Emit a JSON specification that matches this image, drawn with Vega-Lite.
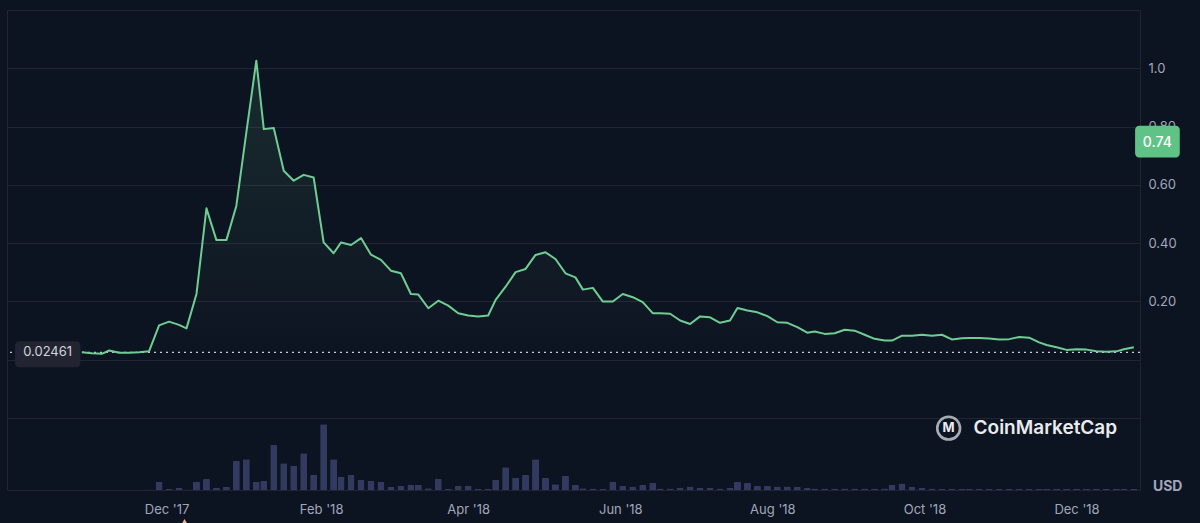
{
  "$schema": "https://vega.github.io/schema/vega-lite/v6.json",
  "width": 1133,
  "height": 480,
  "padding": {"left": 7, "top": 10, "right": 60, "bottom": 33},
  "autosize": {"type": "none"},
  "background": "#0d1421",
  "config": {
    "font": "Inter",
    "view": {"stroke": "#222531", "strokeWidth": 1},
    "axis": {"domain": false, "ticks": false, "labelFont": "Inter", "labelColor": "#a1a7bb", "labelFontSize": 13}
  },
  "data": {
    "format": {"parse": {"date": "date:'%Y-%m-%d'"}},
    "values": [
      {"date": "2017-10-28", "price": 0.025, "volume": 30000},
      {"date": "2017-11-01", "price": 0.0216, "volume": 30000},
      {"date": "2017-11-05", "price": 0.0195, "volume": 30000},
      {"date": "2017-11-08", "price": 0.031, "volume": 30000},
      {"date": "2017-11-12", "price": 0.023, "volume": 30000},
      {"date": "2017-11-16", "price": 0.023, "volume": 30000},
      {"date": "2017-11-20", "price": 0.025, "volume": 30000},
      {"date": "2017-11-24", "price": 0.0285, "volume": 50000},
      {"date": "2017-11-28", "price": 0.117, "volume": 830000},
      {"date": "2017-12-02", "price": 0.130, "volume": 100000},
      {"date": "2017-12-06", "price": 0.119, "volume": 200000},
      {"date": "2017-12-09", "price": 0.107, "volume": 50000},
      {"date": "2017-12-13", "price": 0.225, "volume": 830000},
      {"date": "2017-12-17", "price": 0.519, "volume": 1100000},
      {"date": "2017-12-21", "price": 0.41, "volume": 200000},
      {"date": "2017-12-25", "price": 0.41, "volume": 330000},
      {"date": "2017-12-29", "price": 0.528, "volume": 2900000},
      {"date": "2018-01-02", "price": 0.78, "volume": 3070000},
      {"date": "2018-01-06", "price": 1.026, "volume": 830000},
      {"date": "2018-01-09", "price": 0.791, "volume": 930000},
      {"date": "2018-01-13", "price": 0.795, "volume": 4500000},
      {"date": "2018-01-17", "price": 0.648, "volume": 2670000},
      {"date": "2018-01-21", "price": 0.614, "volume": 2430000},
      {"date": "2018-01-25", "price": 0.634, "volume": 3670000},
      {"date": "2018-01-29", "price": 0.625, "volume": 1500000},
      {"date": "2018-02-02", "price": 0.402, "volume": 6570000},
      {"date": "2018-02-06", "price": 0.365, "volume": 3070000},
      {"date": "2018-02-09", "price": 0.402, "volume": 1330000},
      {"date": "2018-02-13", "price": 0.393, "volume": 1500000},
      {"date": "2018-02-17", "price": 0.417, "volume": 1000000},
      {"date": "2018-02-21", "price": 0.360, "volume": 900000},
      {"date": "2018-02-25", "price": 0.342, "volume": 830000},
      {"date": "2018-03-01", "price": 0.305, "volume": 330000},
      {"date": "2018-03-05", "price": 0.296, "volume": 400000},
      {"date": "2018-03-09", "price": 0.225, "volume": 500000},
      {"date": "2018-03-12", "price": 0.223, "volume": 500000},
      {"date": "2018-03-16", "price": 0.176, "volume": 170000},
      {"date": "2018-03-20", "price": 0.202, "volume": 1100000},
      {"date": "2018-03-24", "price": 0.185, "volume": 100000},
      {"date": "2018-03-28", "price": 0.159, "volume": 400000},
      {"date": "2018-04-01", "price": 0.151, "volume": 400000},
      {"date": "2018-04-05", "price": 0.148, "volume": 100000},
      {"date": "2018-04-09", "price": 0.151, "volume": 100000},
      {"date": "2018-04-12", "price": 0.205, "volume": 1000000},
      {"date": "2018-04-16", "price": 0.250, "volume": 2270000},
      {"date": "2018-04-20", "price": 0.300, "volume": 1230000},
      {"date": "2018-04-24", "price": 0.311, "volume": 1500000},
      {"date": "2018-04-28", "price": 0.359, "volume": 3070000},
      {"date": "2018-05-02", "price": 0.368, "volume": 1230000},
      {"date": "2018-05-06", "price": 0.345, "volume": 570000},
      {"date": "2018-05-10", "price": 0.296, "volume": 1400000},
      {"date": "2018-05-14", "price": 0.282, "volume": 500000},
      {"date": "2018-05-17", "price": 0.240, "volume": 170000},
      {"date": "2018-05-21", "price": 0.246, "volume": 150000},
      {"date": "2018-05-25", "price": 0.199, "volume": 100000},
      {"date": "2018-05-29", "price": 0.199, "volume": 800000},
      {"date": "2018-06-02", "price": 0.225, "volume": 400000},
      {"date": "2018-06-06", "price": 0.214, "volume": 350000},
      {"date": "2018-06-10", "price": 0.197, "volume": 500000},
      {"date": "2018-06-14", "price": 0.159, "volume": 700000},
      {"date": "2018-06-17", "price": 0.159, "volume": 150000},
      {"date": "2018-06-21", "price": 0.157, "volume": 150000},
      {"date": "2018-06-25", "price": 0.134, "volume": 200000},
      {"date": "2018-06-29", "price": 0.122, "volume": 350000},
      {"date": "2018-07-03", "price": 0.148, "volume": 200000},
      {"date": "2018-07-07", "price": 0.145, "volume": 200000},
      {"date": "2018-07-11", "price": 0.126, "volume": 150000},
      {"date": "2018-07-15", "price": 0.134, "volume": 200000},
      {"date": "2018-07-18", "price": 0.177, "volume": 800000},
      {"date": "2018-07-22", "price": 0.168, "volume": 700000},
      {"date": "2018-07-26", "price": 0.162, "volume": 400000},
      {"date": "2018-07-30", "price": 0.149, "volume": 400000},
      {"date": "2018-08-03", "price": 0.128, "volume": 350000},
      {"date": "2018-08-07", "price": 0.126, "volume": 350000},
      {"date": "2018-08-11", "price": 0.111, "volume": 300000},
      {"date": "2018-08-15", "price": 0.092, "volume": 200000},
      {"date": "2018-08-18", "price": 0.096, "volume": 150000},
      {"date": "2018-08-22", "price": 0.088, "volume": 150000},
      {"date": "2018-08-26", "price": 0.090, "volume": 150000},
      {"date": "2018-08-30", "price": 0.102, "volume": 150000},
      {"date": "2018-09-03", "price": 0.099, "volume": 150000},
      {"date": "2018-09-07", "price": 0.085, "volume": 150000},
      {"date": "2018-09-11", "price": 0.071, "volume": 150000},
      {"date": "2018-09-15", "price": 0.065, "volume": 150000},
      {"date": "2018-09-18", "price": 0.065, "volume": 500000},
      {"date": "2018-09-22", "price": 0.082, "volume": 650000},
      {"date": "2018-09-26", "price": 0.082, "volume": 300000},
      {"date": "2018-09-30", "price": 0.085, "volume": 200000},
      {"date": "2018-10-04", "price": 0.082, "volume": 150000},
      {"date": "2018-10-08", "price": 0.085, "volume": 100000},
      {"date": "2018-10-12", "price": 0.069, "volume": 100000},
      {"date": "2018-10-16", "price": 0.073, "volume": 100000},
      {"date": "2018-10-19", "price": 0.074, "volume": 100000},
      {"date": "2018-10-23", "price": 0.074, "volume": 100000},
      {"date": "2018-10-27", "price": 0.072, "volume": 100000},
      {"date": "2018-10-31", "price": 0.069, "volume": 100000},
      {"date": "2018-11-04", "price": 0.070, "volume": 100000},
      {"date": "2018-11-08", "price": 0.077, "volume": 100000},
      {"date": "2018-11-12", "price": 0.075, "volume": 100000},
      {"date": "2018-11-16", "price": 0.059, "volume": 100000},
      {"date": "2018-11-19", "price": 0.050, "volume": 100000},
      {"date": "2018-11-23", "price": 0.042, "volume": 100000},
      {"date": "2018-11-27", "price": 0.033, "volume": 100000},
      {"date": "2018-12-01", "price": 0.035, "volume": 100000},
      {"date": "2018-12-05", "price": 0.034, "volume": 100000},
      {"date": "2018-12-09", "price": 0.028, "volume": 100000},
      {"date": "2018-12-13", "price": 0.027, "volume": 100000},
      {"date": "2018-12-17", "price": 0.028, "volume": 100000},
      {"date": "2018-12-20", "price": 0.035, "volume": 100000},
      {"date": "2018-12-24", "price": 0.042, "volume": 100000}
    ]
  },
  "layer": [
    {
      "mark": {"type": "bar", "size": 7, "color": "#323a5f", "cornerRadiusTopLeft": 1, "cornerRadiusTopRight": 1},
      "encoding": {
        "x": {
          "field": "date",
          "type": "temporal",
          "scale": {"domain": [{"year": 2017, "month": 9, "date": 30}, {"year": 2018, "month": 12, "date": 24, "hours": 11}]},
          "axis": {
            "title": null,
            "grid": false,
            "labelPadding": 13,
            "format": "%b '%y",
            "values": [
              {"year": 2017, "month": 12, "date": 1},
              {"year": 2018, "month": 2, "date": 1},
              {"year": 2018, "month": 4, "date": 1},
              {"year": 2018, "month": 6, "date": 1},
              {"year": 2018, "month": 8, "date": 1},
              {"year": 2018, "month": 10, "date": 1},
              {"year": 2018, "month": 12, "date": 1}
            ]
          }
        },
        "y": {"field": "volume", "type": "quantitative", "scale": {"domain": [0, 48000000], "nice": false}, "axis": null}
      }
    },
    {
      "layer": [
        {
          "mark": {"type": "rule", "color": "#c9cdd8", "strokeDash": [2, 4], "strokeWidth": 1.2},
          "data": {"values": [{}]},
          "encoding": {"y": {"datum": 0.02461}}
        },
        {
          "mark": {
            "type": "area",
            "color": {
              "gradient": "linear", "x1": 0, "y1": 0, "x2": 0, "y2": 1,
              "stops": [
                {"offset": 0, "color": "rgba(111,205,147,0.13)"},
                {"offset": 1, "color": "rgba(111,205,147,0.0)"}
              ]
            }
          },
          "encoding": {
            "x": {"field": "date", "type": "temporal"},
            "y": {"field": "price", "type": "quantitative"},
            "y2": {"datum": 0.02461}
          }
        },
        {
          "mark": {"type": "line", "color": "#6fcd93", "strokeWidth": 2, "strokeJoin": "round"},
          "encoding": {
            "x": {"field": "date", "type": "temporal"},
            "y": {
              "field": "price",
              "type": "quantitative",
              "scale": {"domain": [-0.448, 1.2], "nice": false, "zero": false},
              "axis": {
                "orient": "right",
                "title": null,
                "grid": true,
                "gridColor": "#222531",
                "labelPadding": 8,
                "values": [-0.2, 0, 0.2, 0.4, 0.6, 0.8, 1, 1.2],
                "labelExpr": "datum.value > 0.1 && datum.value < 0.9 ? format(datum.value, '.2f') : (datum.value > 0.95 && datum.value < 1.05 ? '1.0' : '')"
              }
            }
          }
        },
        {
          "mark": {"type": "rect", "color": "#222531", "cornerRadius": 4},
          "data": {"values": [{}]},
          "encoding": {
            "x": {"datum": {"year": 2017, "month": 10, "date": 1, "hours": 5}, "type": "temporal"},
            "x2": {"datum": {"year": 2017, "month": 10, "date": 27, "hours": 10}},
            "y": {"datum": 0.0628},
            "y2": {"datum": -0.0264}
          }
        },
        {
          "mark": {"type": "text", "color": "#cfd4de", "fontSize": 13, "align": "center", "baseline": "middle"},
          "data": {"values": [{"label": "0.02461"}]},
          "encoding": {
            "x": {"datum": {"year": 2017, "month": 10, "date": 14, "hours": 7}, "type": "temporal"},
            "y": {"datum": 0.02461},
            "text": {"field": "label"}
          }
        },
        {
          "mark": {"type": "rect", "color": "#5fc386", "cornerRadius": 4},
          "data": {"values": [{}]},
          "encoding": {
            "x": {"datum": {"year": 2018, "month": 12, "date": 24, "hours": 12}, "type": "temporal"},
            "x2": {"datum": {"year": 2019, "month": 1, "date": 11, "hours": 10}},
            "y": {"datum": 0.803},
            "y2": {"datum": 0.694}
          }
        },
        {
          "mark": {"type": "text", "color": "#ffffff", "fontSize": 14, "fontWeight": 500, "align": "center", "baseline": "middle"},
          "data": {"values": [{"label": "0.74"}]},
          "encoding": {
            "x": {"datum": {"year": 2019, "month": 1, "date": 2, "hours": 10}, "type": "temporal"},
            "y": {"datum": 0.745},
            "text": {"field": "label"}
          }
        },
        {
          "mark": {"type": "point", "shape": "circle", "size": 520, "filled": false, "color": "#e9ebf0", "strokeWidth": 2.6},
          "data": {"values": [{}]},
          "encoding": {
            "x": {"datum": {"year": 2018, "month": 10, "date": 10, "hours": 17}, "type": "temporal"},
            "y": {"datum": -0.2357}
          }
        },
        {
          "mark": {"type": "text", "color": "#e9ebf0", "fontSize": 13, "fontWeight": 700, "align": "center", "baseline": "middle"},
          "data": {"values": [{"label": "M"}]},
          "encoding": {
            "x": {"datum": {"year": 2018, "month": 10, "date": 10, "hours": 17}, "type": "temporal"},
            "y": {"datum": -0.2357},
            "text": {"field": "label"}
          }
        },
        {
          "mark": {"type": "text", "color": "#e9ebf0", "fontSize": 19, "fontWeight": 600, "align": "left", "baseline": "middle"},
          "data": {"values": [{"label": "CoinMarketCap"}]},
          "encoding": {
            "x": {"datum": {"year": 2018, "month": 10, "date": 20, "hours": 17}, "type": "temporal"},
            "y": {"datum": -0.2357},
            "text": {"field": "label"}
          }
        },
        {
          "mark": {"type": "text", "color": "#a1a7bb", "fontSize": 14, "fontWeight": 700, "align": "center", "baseline": "middle"},
          "data": {"values": [{"label": "USD"}]},
          "encoding": {
            "x": {"datum": {"year": 2019, "month": 1, "date": 6, "hours": 14}, "type": "temporal"},
            "y": {"datum": -0.438},
            "text": {"field": "label"}
          }
        },
        {
          "mark": {"type": "point", "shape": "triangle-up", "size": 40, "filled": true, "color": "#f2b48c", "opacity": 1},
          "data": {"values": [{}]},
          "encoding": {
            "x": {"datum": {"year": 2017, "month": 12, "date": 8, "hours": 5}, "type": "temporal"},
            "y": {"datum": -0.557}
          }
        }
      ]
    }
  ],
  "resolve": {"scale": {"y": "independent"}}
}
